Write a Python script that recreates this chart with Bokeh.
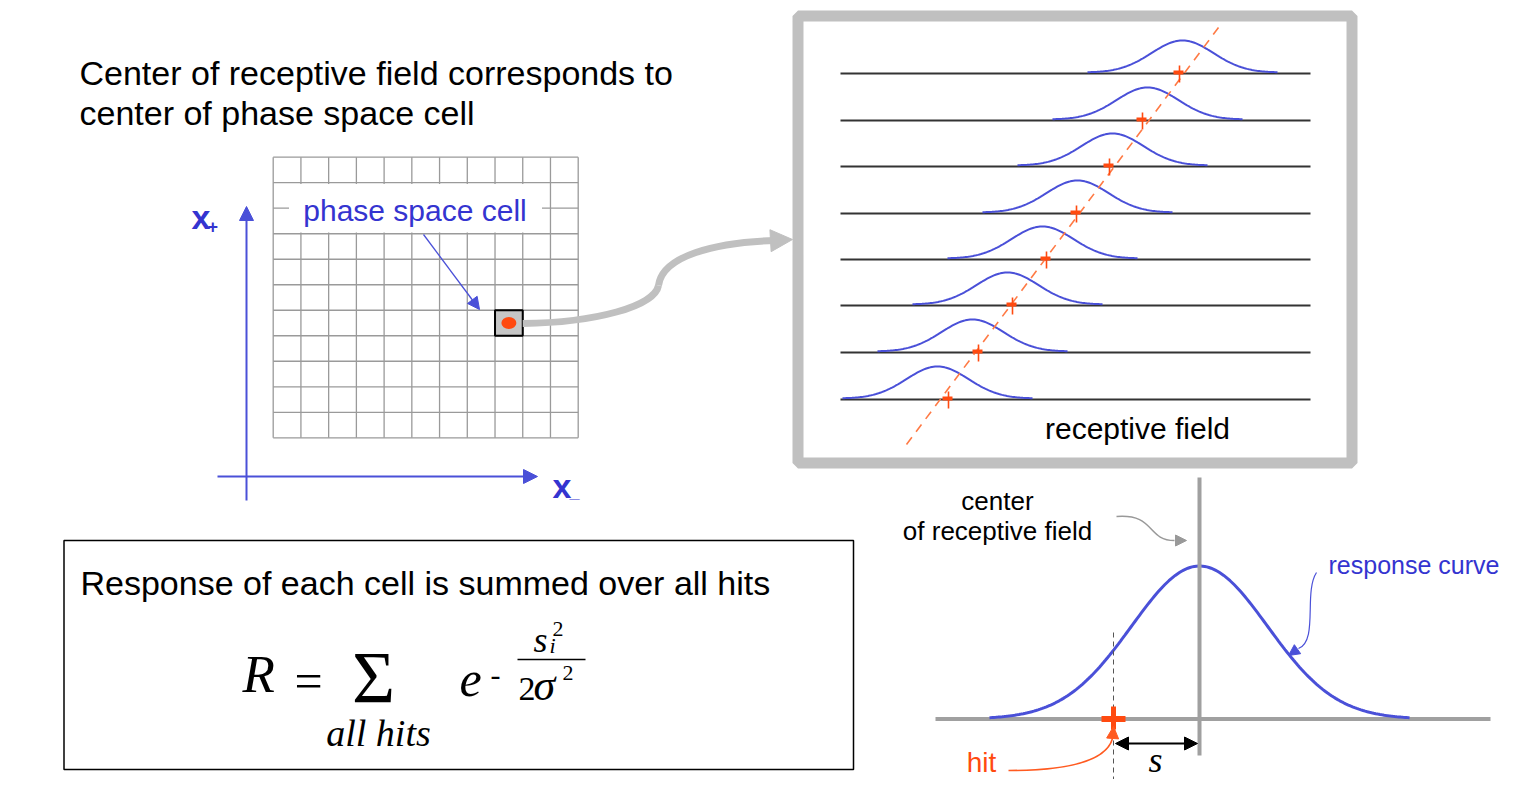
import numpy as np
from bokeh.plotting import figure
from bokeh.models import Range1d, Arrow, NormalHead
from bokeh.embed import file_html
from bokeh.resources import INLINE
from bokeh.core.properties import value

W, H = 1501, 779

# ---------------- texts ----------------
title_lines = ["Center of receptive field corresponds to", "center of phase space cell"]
cell_label = "phase space cell"
rf_label = "receptive field"
sum_label = "Response of each cell is summed over all hits"
center_label = ["center", "of receptive field"]
curve_label = "response curve"
hit_label = "hit"

# ---------------- phase-space grid ----------------
grid_cols = 11
grid_rows = 11
grid_x = [272.7, 577.7]
grid_y = [156.7, 437.3]
label_box_x = [288.5, 541.5]
sel_cell = [8, 6]          # column, row of the highlighted cell

# ---------------- receptive fields (8 tracks) ----------------
rf_baselines = [73, 120, 166, 213, 259, 305, 352, 399]
rf_centers = [1182, 1147, 1112, 1077, 1042, 1007, 972, 937]
rf_hits = [1178, 1141, 1108, 1075, 1045, 1011, 977, 947]
rf_amp = 32
rf_sigma = 31
rf_half = 95
rf_line_x = [840, 1310]
track_x = [906, 1218]
track_y = [444, 27]

# ---------------- response curve ----------------
resp_center = 1199
resp_base = 718.5
resp_amp = 153
resp_sigma = 68
resp_half = 210
hit_x = 1113

BLUE = "#4a50d8"
BLUE_TXT = "#3434d0"
RED = "#ff4a10"
ORANGE = "#ff7a45"
GRAY = "#c0c0c0"
SANS = value("Liberation Sans")
SERIF = value("Liberation Serif")

p = figure(width=W, height=H, x_range=Range1d(0, W), y_range=Range1d(H, 0),
           output_backend="svg", toolbar_location=None, min_border=0,
           x_axis_location=None, y_axis_location=None)
p.grid.visible = False
p.outline_line_color = None
p.background_fill_color = "white"


def txt(x, y, t, size, color="black", align="left", font=SANS, style="normal"):
    # y is the vertical middle of the text
    p.text(x=[x], y=[y], text=[t], text_font=font, text_font_size=f"{size}px",
           text_color=color, text_align=align, text_baseline="middle",
           text_font_style=style)


def head(x0, y0, x1, y1, size, color):
    p.add_layout(Arrow(x_start=x0, y_start=y0, x_end=x1, y_end=y1, line_color=None,
                       end=NormalHead(size=size, fill_color=color, line_color=color)))


# ---------------- title ----------------
txt(79, 72, title_lines[0], 34)
txt(79, 112, title_lines[1], 34)

# ---------------- grid ----------------
cw = (grid_x[1] - grid_x[0]) / grid_cols
ch = (grid_y[1] - grid_y[0]) / grid_rows
vx = [grid_x[0] + i * cw for i in range(grid_cols + 1)]
hy = [grid_y[0] + j * ch for j in range(grid_rows + 1)]
p.segment(x0=vx, x1=vx, y0=[grid_y[0]] * len(vx), y1=[grid_y[1]] * len(vx),
          line_color="#9a9a9a", line_width=1.3)
p.segment(x0=[grid_x[0]] * len(hy), x1=[grid_x[1]] * len(hy), y0=hy, y1=hy,
          line_color="#9a9a9a", line_width=1.3)
p.quad(left=[label_box_x[0]], right=[label_box_x[1]], top=[hy[1] + 1.2], bottom=[hy[3] - 1.2],
       fill_color="white", line_color=None)
txt(414.5, 210, cell_label, 30, BLUE_TXT, "center")

sx0 = grid_x[0] + sel_cell[0] * cw
sy0 = grid_y[0] + sel_cell[1] * ch
p.quad(left=[sx0], right=[sx0 + cw], top=[sy0], bottom=[sy0 + ch],
       fill_color="#c6c6c6", line_color="black", line_width=2)
p.ellipse(x=[sx0 + cw / 2], y=[sy0 + ch / 2], width=15, height=12,
          fill_color=RED, line_color=None)

# pointer arrow from label to cell
p.add_layout(Arrow(x_start=423, y_start=234, x_end=479, y_end=309, line_color=BLUE,
                   line_width=1.3, end=NormalHead(size=12, fill_color=BLUE, line_color=BLUE)))

# phase-space axes
p.add_layout(Arrow(x_start=246, y_start=500, x_end=246, y_end=206, line_color=BLUE,
                   line_width=2, end=NormalHead(size=14, fill_color=BLUE, line_color=BLUE)))
p.add_layout(Arrow(x_start=217, y_start=476, x_end=537, y_end=476, line_color=BLUE,
                   line_width=2, end=NormalHead(size=14, fill_color=BLUE, line_color=BLUE)))
txt(191, 216, "x", 34, BLUE_TXT, style="bold")
txt(207, 226, "+", 18, BLUE_TXT, style="bold")
txt(552, 485, "x", 34, BLUE_TXT, style="bold")
txt(569, 491, "_", 18, BLUE_TXT, style="bold")

# gray connector to the receptive-field panel
p.bezier(x0=[sx0 + cw, 658], y0=[323, 285], x1=[658, 774], y1=[285, 240],
         cx0=[595, 662], cy0=[322, 255], cx1=[654, 715], cy1=[306, 242],
         line_color=GRAY, line_width=7)
head(768, 240.3, 792, 239, 22, GRAY)

# ---------------- receptive-field panel ----------------
p.quad(left=[797.5], right=[1351.5], top=[15.5], bottom=[462.5],
       fill_color="white", line_color=GRAY, line_width=11)
n = len(rf_baselines)
p.segment(x0=[rf_line_x[0]] * n, x1=[rf_line_x[1]] * n, y0=rf_baselines, y1=rf_baselines,
          line_color="#333333", line_width=1.8)
xs, ys = [], []
for b, c in zip(rf_baselines, rf_centers):
    d = np.linspace(-rf_half, rf_half, 120)
    xs.append(list(c + d))
    ys.append(list(b - 1 - rf_amp * np.exp(-d ** 2 / (2 * rf_sigma ** 2))))
p.multi_line(xs=xs, ys=ys, line_color=BLUE, line_width=2)
p.line(x=track_x, y=track_y, line_color=ORANGE, line_width=1.6, line_dash="9 7")
p.segment(x0=[h - 5 for h in rf_hits], x1=[h + 5 for h in rf_hits],
          y0=[b - 1 for b in rf_baselines], y1=[b - 1 for b in rf_baselines],
          line_color=RED, line_width=4)
p.segment(x0=[h + 1 for h in rf_hits], x1=[h + 1 for h in rf_hits],
          y0=[b - 8 for b in rf_baselines], y1=[b + 9 for b in rf_baselines],
          line_color=RED, line_width=1.6)
txt(1137, 428, rf_label, 30, "black", "center")

# ---------------- formula box ----------------
p.quad(left=[63.5], right=[853], top=[540], bottom=[769], fill_color=None,
       line_color="black", line_width=1.5)
txt(80, 582, sum_label, 34)
txt(242, 673, "R", 53, font=SERIF, style="italic")
txt(308, 680, "=", 50, align="center", font=SERIF)
txt(373, 677, "\u03a3", 74, align="center", font=SERIF)
txt(378, 732, "all hits", 38, align="center", font=SERIF, style="italic")
txt(459, 679, "e", 50, font=SERIF, style="italic")
txt(495, 675, "-", 30, align="center", font=SERIF)
p.segment(x0=[517], x1=[585], y0=[659], y1=[659], line_color="black", line_width=1.5)
txt(533, 639, "s", 36, font=SERIF, style="italic")
txt(549, 645, "i", 22, font=SERIF, style="italic")
txt(552, 628, "2", 22, font=SERIF)
txt(518, 688, "2", 34, font=SERIF)
txt(533, 685, "\u03c3", 44, font=SERIF, style="italic")
txt(562, 672, "2", 22, font=SERIF)

# ---------------- response curve panel ----------------
p.segment(x0=[935], x1=[1490], y0=[resp_base], y1=[resp_base], line_color="#a0a0a0", line_width=4)
d = np.linspace(-resp_half, resp_half, 200)
p.line(x=resp_center + d, y=resp_base - resp_amp * np.exp(-d ** 2 / (2 * resp_sigma ** 2)),
       line_color=BLUE, line_width=3)
p.segment(x0=[resp_center], x1=[resp_center], y0=[477], y1=[755], line_color="#a0a0a0", line_width=4)
p.segment(x0=[hit_x], x1=[hit_x], y0=[632], y1=[779], line_color="#555555", line_width=1,
          line_dash="5 4")
p.segment(x0=[hit_x - 12], x1=[hit_x + 12], y0=[resp_base], y1=[resp_base],
          line_color=RED, line_width=6)
p.segment(x0=[hit_x], x1=[hit_x], y0=[706], y1=[729], line_color=RED, line_width=5)

# hit pointer
p.bezier(x0=[1008], y0=[770], x1=[hit_x - 1], y1=[738], cx0=[1060], cy0=[770],
         cx1=[1105], cy1=[763], line_color="#ff5a20", line_width=1.6)
head(hit_x - 1, 740, hit_x, 726, 12, "#ff5a20")
txt(981, 762, hit_label, 28, RED, "center")

# distance s
p.add_layout(Arrow(x_start=hit_x + 2, y_start=743, x_end=resp_center - 2, y_end=743,
                   line_color="black", line_width=2,
                   start=NormalHead(size=13, fill_color="black", line_color="black"),
                   end=NormalHead(size=13, fill_color="black", line_color="black")))
txt(1155, 759, "s", 36, align="center", font=SERIF, style="italic")

# center label + pointer
txt(997, 500, center_label[0], 26, align="center")
txt(997, 530, center_label[1], 26, align="center")
p.bezier(x0=[1116], y0=[516], x1=[1174], y1=[540], cx0=[1155], cy0=[513],
         cx1=[1146], cy1=[540], line_color="#999999", line_width=1.5)
head(1172, 540, 1186, 540, 11, "#999999")

# response curve label + pointer
txt(1328, 564, curve_label, 25, BLUE_TXT)
p.bezier(x0=[1316], y0=[572], x1=[1298], y1=[648], cx0=[1303], cy0=[592],
         cx1=[1318], cy1=[640], line_color=BLUE, line_width=1.2)
head(1298, 648, 1288, 655, 11, BLUE)

open("out.html", "w").write(file_html(p, INLINE))
